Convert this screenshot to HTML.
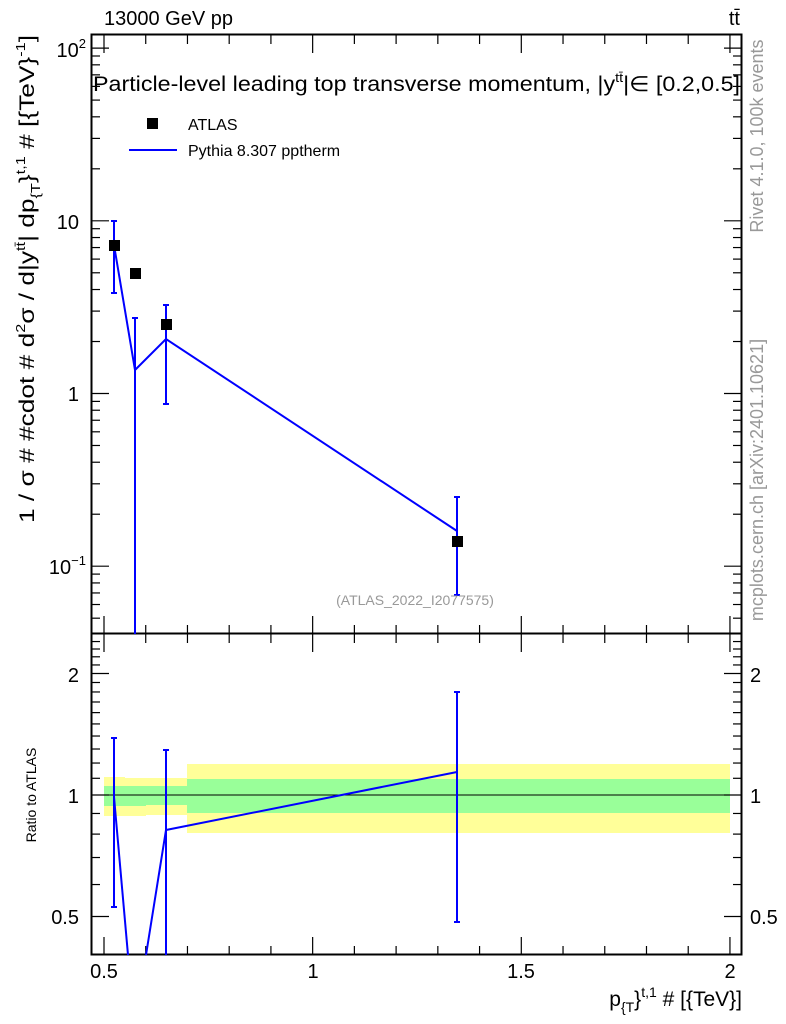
<!DOCTYPE html>
<html><head><meta charset="utf-8"><style>
html,body{margin:0;padding:0;background:#fff;}
svg{display:block;font-family:"Liberation Sans",Arial,sans-serif;}
</style></head><body>
<svg id="s" width="786" height="1024" viewBox="0 0 786 1024" xmlns="http://www.w3.org/2000/svg">
<rect width="786" height="1024" fill="#fff"/>
<rect x="104" y="777" width="21" height="39" fill="#ffff99"/>
<rect x="125" y="778" width="21" height="38" fill="#ffff99"/>
<rect x="146" y="778" width="41" height="37" fill="#ffff99"/>
<rect x="187" y="764" width="543" height="69" fill="#ffff99"/>
<rect x="104" y="786" width="21" height="20" fill="#99ff99"/>
<rect x="125" y="786" width="21" height="20" fill="#99ff99"/>
<rect x="146" y="786" width="41" height="19" fill="#99ff99"/>
<rect x="187" y="779" width="543" height="34" fill="#99ff99"/>
<line x1="91" y1="795" x2="742" y2="795" stroke="#000" stroke-width="1"/>
<g id="ticks" stroke="#000" stroke-width="1.2"></g>
<rect x="91.5" y="34.5" width="650" height="599" fill="none" stroke="#000" stroke-width="2"/>
<rect x="91.5" y="633.5" width="650" height="321" fill="none" stroke="#000" stroke-width="2"/>
<g stroke="#0000ff" stroke-width="2" fill="none">
<polyline points="114,245 135,370 166,339 457,531"/>
<line x1="114" y1="221" x2="114" y2="293"/><line x1="111" y1="221" x2="117" y2="221"/><line x1="111" y1="293" x2="117" y2="293"/>
<line x1="135" y1="318" x2="135" y2="634"/><line x1="132" y1="318" x2="138" y2="318"/>
<line x1="166" y1="305" x2="166" y2="404"/><line x1="163" y1="305" x2="169" y2="305"/><line x1="163" y1="404" x2="169" y2="404"/>
<line x1="457" y1="497" x2="457" y2="595"/><line x1="454" y1="497" x2="460" y2="497"/><line x1="454" y1="595" x2="460" y2="595"/>
</g>
<g fill="#000">
<rect x="109" y="240" width="11" height="11"/>
<rect x="130" y="268" width="11" height="11"/>
<rect x="161" y="319" width="11" height="11"/>
<rect x="452" y="536" width="11" height="11"/>
<rect x="147" y="118" width="11" height="11"/>
</g>
<line x1="129" y1="150" x2="177" y2="150" stroke="#0000ff" stroke-width="2"/>
<g stroke="#0000ff" stroke-width="2" fill="none">
<polyline points="114,797 128,955"/>
<polyline points="146,955 166,830 457,772"/>
<line x1="114" y1="738" x2="114" y2="907"/><line x1="111" y1="738" x2="117" y2="738"/><line x1="111" y1="907" x2="117" y2="907"/>
<line x1="166" y1="750" x2="166" y2="955"/><line x1="163" y1="750" x2="169" y2="750"/>
<line x1="457" y1="692" x2="457" y2="922"/><line x1="454" y1="692" x2="460" y2="692"/><line x1="454" y1="922" x2="460" y2="922"/>
</g>
<text x="104" y="25" font-size="20">13000 GeV pp</text>
<text x="740" y="25" font-size="20" text-anchor="end">tt̄</text>
<text x="93" y="91" font-size="21" textLength="647" lengthAdjust="spacingAndGlyphs">Particle-level leading top transverse momentum, |y<tspan font-size="13" dy="-9">tt̄</tspan><tspan dy="9">|∈ [0.2,0.5]</tspan></text>
<text x="188" y="130" font-size="16">ATLAS</text>
<text x="188" y="156" font-size="16">Pythia 8.307 pptherm</text>
<text x="415" y="605" font-size="14" fill="#999" text-anchor="middle">(ATLAS_2022_I2077575)</text>
<g font-size="20">
<text x="86" y="57" text-anchor="end">10<tspan font-size="13" dy="-9">2</tspan></text>
<text x="79" y="229" text-anchor="end">10</text>
<text x="79" y="401" text-anchor="end">1</text>
<text x="86" y="574" text-anchor="end">10<tspan font-size="13" dy="-9">−1</tspan></text>
<text x="79" y="682" text-anchor="end">2</text>
<text x="79" y="803" text-anchor="end">1</text>
<text x="79" y="924" text-anchor="end">0.5</text>
<text x="750" y="682">2</text>
<text x="750" y="803">1</text>
<text x="750" y="924">0.5</text>
<text x="104" y="978" text-anchor="middle">0.5</text>
<text x="313" y="978" text-anchor="middle">1</text>
<text x="521" y="978" text-anchor="middle">1.5</text>
<text x="730" y="978" text-anchor="middle">2</text>
</g>
<text x="742" y="1006" font-size="21" text-anchor="end">p<tspan font-size="14" dy="6">{T</tspan><tspan dy="-6">}</tspan><tspan font-size="14" dy="-9">t,1</tspan><tspan dy="9"> # [{TeV}]</tspan></text>
<text transform="translate(34,35) rotate(-90)" font-size="21" text-anchor="end" textLength="488" lengthAdjust="spacingAndGlyphs">1 / σ # #cdot # d<tspan font-size="13" dy="-9">2</tspan><tspan dy="9">σ / d|y</tspan><tspan font-size="13" dy="-9">tt̄</tspan><tspan dy="9">| dp</tspan><tspan font-size="13" dy="6">{T</tspan><tspan dy="-6">}</tspan><tspan font-size="13" dy="-9">t,1</tspan><tspan dy="9"> # [{TeV}</tspan><tspan font-size="13" dy="-9">-1</tspan><tspan dy="9">]</tspan></text>
<text transform="translate(36,795) rotate(-90)" font-size="14" text-anchor="middle">Ratio to ATLAS</text>
<text transform="translate(763,136) rotate(-90)" font-size="18" fill="#999" text-anchor="middle">Rivet 4.1.0,  100k events</text>
<text transform="translate(763,480) rotate(-90)" font-size="18" fill="#999" text-anchor="middle">mcplots.cern.ch [arXiv:2401.10621]</text>
</svg>
<script>
(function(){
var g=document.getElementById('ticks'),s='';
function L(a,b,c,d){s+='<line x1="'+a+'" y1="'+b+'" x2="'+c+'" y2="'+d+'"/>';}
function X(v){return 104+(v-0.5)*417.3;}
for(var i=5;i<=20;i++){var x=X(i/10),m=(i%5==0);var h=m?18:9;
 L(x,634,x,634-h);L(x,35,x,35+h);L(x,634,x,634+h);L(x,955,x,955-h);}
function Y(v){return 393.5-172.7*Math.log10(v);}
for(var e=-2;e<=2;e++)for(var k=1;k<=9;k++){var v=k*Math.pow(10,e),y=Y(v);if(y<35||y>633)continue;var h=k==1?18:9;
 L(91,y,91+h,y);L(742,y,742-h,y);}
function R(r){return 795-403.6*Math.log10(r);}
var rv=[0.4,0.5,0.6,0.7,0.8,0.9,1,1.1,1.2,1.3,1.4,1.5,1.6,1.7,1.8,1.9,2,2.1,2.2,2.3,2.4,2.5];
rv.forEach(function(r){var y=R(r);if(y<635||y>954)return;var h=(r==0.5||r==1||r==2)?18:9;L(91,y,91+h,y);L(742,y,742-h,y);});
g.innerHTML=s;
})();
</script>
</body></html>
